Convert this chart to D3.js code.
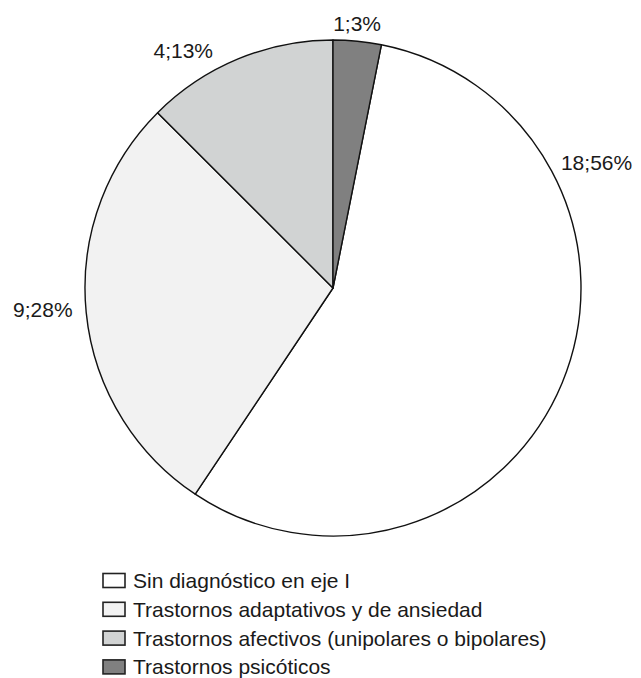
<!DOCTYPE html>
<html>
<head>
<meta charset="utf-8">
<script src="https://cdn.jsdelivr.net/npm/d3@7"></script>
<style>
  body { margin: 0; background: #fff; }
  text { font-family: "Liberation Sans", Arial, sans-serif; fill: #1a1a1a; }
</style>
</head>
<body>
<div id="chart"></div>
<script>
// data, in legend order
var categories = [
  "Sin diagnóstico en eje I",
  "Trastornos adaptativos y de ansiedad",
  "Trastornos afectivos (unipolares o bipolares)",
  "Trastornos psicóticos"
];
var counts = [18, 9, 4, 1];
var colors = ["#ffffff", "#f2f2f2", "#d1d3d3", "#808080"];

var svgWidth = 641;
var svgHeight = 678;
var cx = 333, cy = 288, radius = 248;
var startDeg = 11.25; // angle of first slice
var fontSize = 21;

// where each data label sits (degrees clockwise from top, distance from centre)
var labelLayout = [
  {angle: 64.5, r: 292},
  {angle: 265.7, r: 291},
  {angle: 327.8, r: 281},
  {angle: 5.2, r: 266}
];

var svg = d3.select("#chart")
  .append("svg")
  .attr("width", svgWidth)
  .attr("height", svgHeight);

var total = d3.sum(counts);
var rad = Math.PI / 180;

var pie = d3.pie()
  .sort(null)
  .value(d => d)
  .startAngle(startDeg * rad)
  .endAngle((startDeg + 360) * rad);

var arc = d3.arc()
  .innerRadius(0)
  .outerRadius(radius);

var pieGroup = svg.append("g")
  .attr("transform", `translate(${cx}, ${cy})`);

pieGroup.selectAll("path")
  .data(pie(counts))
  .enter()
  .append("path")
  .attr("d", arc)
  .attr("fill", (d, i) => colors[i])
  .attr("stroke", "#111")
  .attr("stroke-width", 1.4)
  .attr("stroke-linejoin", "round");

// data labels "n;pct%"
pieGroup.selectAll("text.label")
  .data(counts)
  .enter()
  .append("text")
  .attr("class", "label")
  .attr("x", (d, i) => Math.sin(labelLayout[i].angle * rad) * labelLayout[i].r)
  .attr("y", (d, i) => -Math.cos(labelLayout[i].angle * rad) * labelLayout[i].r)
  .attr("dy", "0.36em")
  .attr("text-anchor", "middle")
  .style("font-size", fontSize + "px")
  .text(d => `${d};${Math.round(d / total * 100)}%`);

// legend
var legend = svg.append("g")
  .attr("transform", "translate(102, 580.5)");

var rowStep = 28.8;

var rows = legend.selectAll("g")
  .data(categories)
  .enter()
  .append("g")
  .attr("transform", (d, i) => `translate(0, ${i * rowStep})`);

rows.append("rect")
  .attr("x", 1)
  .attr("y", -7)
  .attr("width", 22)
  .attr("height", 14)
  .attr("fill", (d, i) => colors[i])
  .attr("stroke", "#222")
  .attr("stroke-width", 1.6);

rows.append("text")
  .attr("x", 31)
  .attr("y", 0)
  .attr("dy", "0.36em")
  .style("font-size", fontSize + "px")
  .text(d => d);
</script>
</body>
</html>
